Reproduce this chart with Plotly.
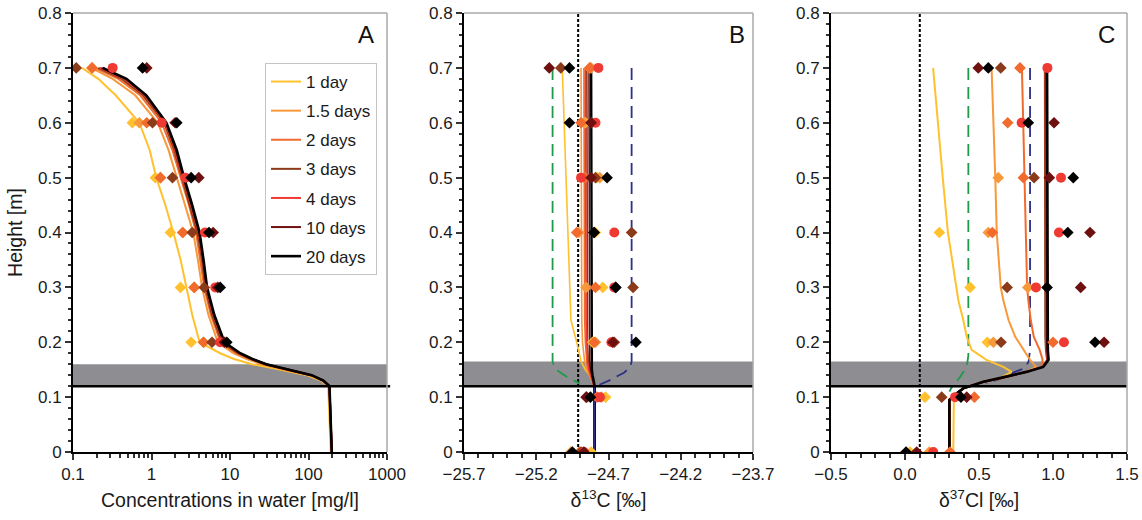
import plotly.graph_objects as go

SERIES = ["1 day", "1.5 days", "2 days", "3 days", "4 days", "10 days", "20 days"]
COLORS = ["#FFC12E", "#F7983A", "#F26B2E", "#8B3A1A", "#EE3A32", "#6E1010", "#000000"]
SYMBOLS = ["diamond", "diamond", "diamond", "diamond", "circle", "diamond", "diamond"]

# ---- panel A: concentration profiles (mg/l) ----
H_A_CURVE = [0.70, 0.68, 0.65, 0.60, 0.55, 0.50, 0.45, 0.40, 0.35, 0.30, 0.25, 0.20,
             0.18, 0.17, 0.16, 0.15, 0.14, 0.13, 0.12, 0.0]
CONC_CURVES = [
    [0.13, 0.21, 0.35, 0.70, 0.95, 1.15, 1.5, 1.9, 2.35, 2.8, 3.3, 4.1, 7.5, 11, 19, 45, 95, 145, 178, 192],
    [0.17, 0.32, 0.62, 1.2, 1.65, 2.1, 2.7, 3.4, 3.9, 4.4, 5.3, 7.0, 11, 16, 25, 50, 105, 150, 183, 196],
    [0.19, 0.38, 0.72, 1.35, 1.85, 2.35, 3.0, 3.7, 4.2, 4.7, 5.7, 7.6, 12, 17.5, 27, 52, 107, 152, 184, 198],
    [0.21, 0.42, 0.78, 1.45, 1.95, 2.45, 3.1, 3.85, 4.4, 4.85, 5.9, 7.9, 12.6, 18, 28, 53, 108, 153, 185, 198],
    [0.22, 0.45, 0.82, 1.5, 2.0, 2.5, 3.2, 4.0, 4.5, 4.95, 6.1, 8.2, 13, 18.5, 28.5, 54, 109, 154, 185, 198],
    [0.23, 0.47, 0.84, 1.53, 2.05, 2.55, 3.25, 4.05, 4.55, 5.0, 6.2, 8.3, 13.2, 18.8, 29, 54.5, 109, 154, 185, 198],
    [0.24, 0.48, 0.86, 1.55, 2.1, 2.6, 3.3, 4.1, 4.6, 5.1, 6.3, 8.5, 13.5, 19, 29, 55, 110, 155, 185, 198],
]
H_A_OBS = [0.7, 0.6, 0.5, 0.4, 0.3, 0.2]
CONC_OBS = [
    [None, 0.57, 1.12, 1.74, 2.34, 3.2],
    [0.175, 0.70, 1.3, 2.5, 3.5, 4.6],
    [0.175, 0.87, 1.3, 2.5, 3.5, 4.6],
    [0.11, 1.03, 1.85, 3.3, 4.7, 5.9],
    [0.32, 1.35, 2.7, 4.8, 6.5, 7.5],
    [0.87, 2.0, 4.0, 6.1, 7.0, 8.5],
    [0.77, 2.1, 3.2, 5.4, 7.5, 9.1],
]

# ---- panel B: d13C (permil) ----
H_B_CURVE = [0.70, 0.40, 0.30, 0.24, 0.20, 0.165, 0.15, 0.14, 0.13, 0.12, 0.0]
D13C_CURVES = [
    [-25.02, -24.98, -24.97, -24.96, -24.92, -24.89, -24.86, -24.83, -24.815, -24.80, -24.80],
    [-24.89, -24.89, -24.885, -24.885, -24.88, -24.865, -24.85, -24.83, -24.815, -24.80, -24.80],
    [-24.87, -24.87, -24.87, -24.865, -24.86, -24.85, -24.84, -24.825, -24.81, -24.80, -24.80],
    [-24.85, -24.85, -24.85, -24.85, -24.845, -24.84, -24.83, -24.82, -24.81, -24.80, -24.80],
    [-24.86, -24.86, -24.86, -24.855, -24.85, -24.845, -24.835, -24.82, -24.81, -24.80, -24.80],
    [-24.835, -24.835, -24.835, -24.835, -24.83, -24.83, -24.825, -24.815, -24.805, -24.80, -24.80],
    [-24.82, -24.82, -24.82, -24.82, -24.82, -24.82, -24.815, -24.81, -24.80, -24.795, -24.795],
]
H_OBS = [0.7, 0.6, 0.5, 0.4, 0.3, 0.2, 0.1, 0.0]
D13C_OBS = [
    [-24.83, -24.86, -24.78, -24.79, -24.74, -24.81, -24.72, -24.82],
    [-24.82, -24.87, -24.76, -24.905, -24.855, -24.79, -24.75, -24.96],
    [-24.83, -24.89, -24.86, -24.92, -24.79, -24.80, -24.78, -24.90],
    [-25.03, -24.82, -24.79, -24.54, -24.53, -24.66, -24.85, -24.89],
    [-24.77, -24.79, -24.89, -24.66, -24.66, -24.68, -24.76, -24.87],
    [-25.11, -24.82, -24.82, -24.80, -24.65, -24.67, -24.855, -24.87],
    [-24.97, -24.97, -24.71, -24.80, -24.65, -24.51, -24.825, -24.95],
]
D13C_REF = -24.91
H_B_GREEN = [0.70, 0.165, 0.155, 0.148, 0.137, 0.125]
D13C_GREEN = [-25.087, -25.087, -25.075, -25.05, -24.99, -24.90]
H_B_BLUE = [0.70, 0.165, 0.155, 0.145, 0.131, 0.12]
D13C_BLUE = [-24.54, -24.54, -24.55, -24.59, -24.69, -24.785]
H_B_BLUE_LOW = [0.12, 0.0]
D13C_BLUE_LOW = [-24.797, -24.797]

# ---- panel C: d37Cl (permil) ----
H_C_CURVE = [0.7, 0.6, 0.5, 0.4, 0.3, 0.277, 0.24, 0.21, 0.186, 0.168, 0.155, 0.146,
             0.134, 0.128, 0.116, 0.107, 0.095, 0.0]
D37CL_CURVES = [
    [0.19, 0.22, 0.255, 0.29, 0.35, 0.36, 0.394, 0.417, 0.45, 0.55, 0.664, 0.72, 0.64, 0.53, 0.40, 0.36, 0.33, 0.326],
    [0.585, 0.60, 0.61, 0.62, 0.647, 0.664, 0.70, 0.745, 0.80, 0.845, 0.885, 0.82, 0.64, 0.53, 0.394, 0.35, 0.30, 0.30],
    [0.79, 0.80, 0.81, 0.815, 0.825, 0.833, 0.85, 0.87, 0.91, 0.93, 0.92, 0.82, 0.64, 0.53, 0.394, 0.35, 0.30, 0.30],
    [0.945, 0.945, 0.945, 0.945, 0.945, 0.945, 0.946, 0.948, 0.952, 0.96, 0.93, 0.82, 0.64, 0.53, 0.394, 0.35, 0.30, 0.30],
    [0.95, 0.95, 0.95, 0.95, 0.95, 0.95, 0.951, 0.953, 0.957, 0.965, 0.932, 0.82, 0.64, 0.53, 0.394, 0.35, 0.30, 0.30],
    [0.955, 0.955, 0.955, 0.955, 0.955, 0.955, 0.956, 0.958, 0.961, 0.968, 0.933, 0.82, 0.64, 0.53, 0.394, 0.35, 0.30, 0.30],
    [0.96, 0.96, 0.96, 0.96, 0.96, 0.96, 0.96, 0.962, 0.965, 0.97, 0.934, 0.82, 0.64, 0.53, 0.394, 0.35, 0.30, 0.30],
]
D37CL_OBS = [
    [None, None, None, 0.232, 0.44, 0.556, 0.135, 0.034],
    [None, None, 0.63, 0.563, 0.83, 0.597, None, 0.164],
    [0.777, 0.694, 0.80, 0.59, None, 1.0, 0.469, 0.304],
    [0.647, None, 0.872, None, 0.69, 0.649, 0.248, None],
    [0.962, 0.788, 1.054, 1.04, 0.885, 1.074, 0.338, 0.191],
    [0.495, 1.007, 0.975, 1.25, 1.187, 1.345, 0.417, 0.079],
    [0.563, 0.833, 1.137, 1.10, 0.96, 1.284, 0.378, 0.007],
]
D37CL_REF = 0.1
H_C_GREEN = [0.70, 0.176, 0.155, 0.136, 0.118, 0.11]
D37CL_GREEN = [0.428, 0.428, 0.417, 0.37, 0.316, 0.30]
H_C_BLUE = [0.70, 0.186, 0.165, 0.153, 0.146, 0.133, 0.125]
D37CL_BLUE = [0.845, 0.845, 0.835, 0.81, 0.743, 0.64, 0.55]

BAND_A = (0.12, 0.16)
BAND_BC = (0.12, 0.165)
INTERFACE = 0.12

FONT = "Liberation Sans, Arial, sans-serif"
GREEN = "#1E9A4A"
NAVY = "#2E2F86"

W, H = 1142, 520


def px_x(a, b):
    return [a / W, b / W]


fig = go.Figure()

# panel A
for i, name in enumerate(SERIES):
    w = 2.6 if i == 6 else 2
    fig.add_trace(go.Scatter(x=CONC_CURVES[i], y=H_A_CURVE, mode="lines", name=name,
                             legendgroup=name, line=dict(color=COLORS[i], width=w),
                             xaxis="x", yaxis="y"))
for i, name in enumerate(SERIES):
    fig.add_trace(go.Scatter(x=CONC_OBS[i], y=H_A_OBS, mode="markers", showlegend=False,
                             marker=dict(color=COLORS[i], symbol=SYMBOLS[i],
                                         size=10 if SYMBOLS[i] == "circle" else 9),
                             xaxis="x", yaxis="y"))

# panel B
fig.add_trace(go.Scatter(x=[D13C_REF, D13C_REF], y=[0, 0.8], mode="lines", showlegend=False,
                         line=dict(color="black", width=2, dash="3px,2px"), xaxis="x2", yaxis="y2"))
fig.add_trace(go.Scatter(x=D13C_GREEN, y=H_B_GREEN, mode="lines", showlegend=False,
                         line=dict(color=GREEN, width=1.8, dash="12px,7px"), xaxis="x2", yaxis="y2"))
fig.add_trace(go.Scatter(x=D13C_BLUE, y=H_B_BLUE, mode="lines", showlegend=False,
                         line=dict(color=NAVY, width=1.8, dash="12px,7px"), xaxis="x2", yaxis="y2"))
for i, name in enumerate(SERIES):
    fig.add_trace(go.Scatter(x=D13C_CURVES[i], y=H_B_CURVE, mode="lines", showlegend=False,
                             line=dict(color=COLORS[i], width=2.4 if i == 6 else 1.6),
                             xaxis="x2", yaxis="y2"))
fig.add_trace(go.Scatter(x=D13C_BLUE_LOW, y=H_B_BLUE_LOW, mode="lines", showlegend=False,
                         line=dict(color=NAVY, width=1.5), xaxis="x2", yaxis="y2"))
for i, name in enumerate(SERIES):
    fig.add_trace(go.Scatter(x=D13C_OBS[i], y=H_OBS, mode="markers", showlegend=False,
                             marker=dict(color=COLORS[i], symbol=SYMBOLS[i],
                                         size=10 if SYMBOLS[i] == "circle" else 9),
                             xaxis="x2", yaxis="y2"))

# panel C
fig.add_trace(go.Scatter(x=[D37CL_REF, D37CL_REF], y=[0, 0.8], mode="lines", showlegend=False,
                         line=dict(color="black", width=2, dash="3px,2px"), xaxis="x3", yaxis="y3"))
fig.add_trace(go.Scatter(x=D37CL_GREEN, y=H_C_GREEN, mode="lines", showlegend=False,
                         line=dict(color=GREEN, width=1.8, dash="12px,7px"), xaxis="x3", yaxis="y3"))
fig.add_trace(go.Scatter(x=D37CL_BLUE, y=H_C_BLUE, mode="lines", showlegend=False,
                         line=dict(color=NAVY, width=1.8, dash="12px,7px"), xaxis="x3", yaxis="y3"))
for i, name in enumerate(SERIES):
    fig.add_trace(go.Scatter(x=D37CL_CURVES[i], y=H_C_CURVE, mode="lines", showlegend=False,
                             line=dict(color=COLORS[i], width=2.6 if i == 6 else 2),
                             xaxis="x3", yaxis="y3"))
for i, name in enumerate(SERIES):
    fig.add_trace(go.Scatter(x=D37CL_OBS[i], y=H_OBS, mode="markers", showlegend=False,
                             marker=dict(color=COLORS[i], symbol=SYMBOLS[i],
                                         size=10 if SYMBOLS[i] == "circle" else 9),
                             xaxis="x3", yaxis="y3"))

# bands, interface line and grey top/right frame
shapes = []
for xa, ya, band in [("x", "y", BAND_A), ("x2", "y2", BAND_BC), ("x3", "y3", BAND_BC)]:
    shapes.append(dict(type="rect", xref=xa + " domain", yref=ya, x0=0, x1=1,
                       y0=band[0], y1=band[1], fillcolor="#8e8e92", line_width=0, layer="below"))
    shapes.append(dict(type="line", xref=xa + " domain", yref=ya, x0=0, x1=1.01 if xa == "x" else 1,
                       y0=INTERFACE, y1=INTERFACE, line=dict(color="black", width=2.5)))
    shapes.append(dict(type="line", xref=xa + " domain", yref=ya + " domain", x0=0, x1=1,
                       y0=1, y1=1, line=dict(color="#a8a8a8", width=1.5)))
    shapes.append(dict(type="line", xref=xa + " domain", yref=ya + " domain", x0=1, x1=1,
                       y0=0, y1=1, line=dict(color="#a8a8a8", width=1.5)))

annotations = []
for xa, ya, letter, xp in [("x", "y", "A", 0.932), ("x2", "y2", "B", 0.945), ("x3", "y3", "C", 0.931)]:
    annotations.append(dict(text=letter, xref=xa + " domain", yref=ya + " domain", x=xp, y=0.95,
                            xanchor="center", yanchor="middle", showarrow=False,
                            font=dict(size=24, family=FONT, color="#111")))

TICKS = dict(showline=True, linecolor="black", linewidth=2, ticks="outside", ticklen=6,
             tickwidth=1.5, tickcolor="#333", showgrid=False, zeroline=False,
             ticklabeloverflow="allow",
             tickfont=dict(size=17, family=FONT, color="#1a1a1a"), automargin=False)
TITLE_FONT = dict(size=19.5, family=FONT, color="#1a1a1a")
YD = [(H - 452) / H, (H - 13) / H]

log_minor = [m * 10 ** e for e in (-1, 0, 1, 2) for m in range(2, 10)]

fig.update_layout(
    width=W, height=H, margin=dict(l=0, r=0, t=0, b=0),
    plot_bgcolor="white", paper_bgcolor="white",
    font=dict(family=FONT),
    shapes=shapes, annotations=annotations,
    legend=dict(x=265 / W, y=(H - 63) / H, xanchor="left", yanchor="top",
                bordercolor="#c4c4c4", borderwidth=1, bgcolor="white",
                font=dict(size=17, family=FONT, color="#1a1a1a"), tracegroupgap=4),
    xaxis=dict(TICKS, type="log", domain=px_x(73, 387), range=[-1, 3], anchor="y",
               tickvals=[0.1, 1, 10, 100, 1000], ticktext=["0.1", "1", "10", "100", "1000"],
               minor=dict(tickvals=log_minor, ticks="outside", ticklen=4, tickcolor="#333"),
               title=dict(text="Concentrations in water [mg/l]", font=TITLE_FONT, standoff=10)),
    yaxis=dict(TICKS, domain=YD, range=[0, 0.8], dtick=0.1, anchor="x",
               minor=dict(dtick=0.02, ticks="outside", ticklen=3.5, tickcolor="#333"),
               title=dict(text="Height [m]", font=TITLE_FONT, standoff=10)),
    xaxis2=dict(TICKS, domain=px_x(464, 753), range=[-25.7, -23.7], anchor="y2",
                tick0=-25.7, dtick=0.5, tickformat=".1f",
                minor=dict(dtick=0.1, tick0=-25.7, ticks="outside", ticklen=4, tickcolor="#333"),
                title=dict(text="δ<sup>13</sup>C [‰]", font=TITLE_FONT, standoff=10)),
    yaxis2=dict(TICKS, domain=YD, range=[0, 0.8], dtick=0.1, anchor="x2",
                minor=dict(dtick=0.02, ticks="outside", ticklen=3.5, tickcolor="#333")),
    xaxis3=dict(TICKS, domain=px_x(831, 1127), range=[-0.5, 1.5], anchor="y3",
                dtick=0.5, tickformat=".1f",
                minor=dict(dtick=0.1, ticks="outside", ticklen=4, tickcolor="#333"),
                title=dict(text="δ<sup>37</sup>Cl [‰]", font=TITLE_FONT, standoff=10)),
    yaxis3=dict(TICKS, domain=YD, range=[0, 0.8], dtick=0.1, anchor="x3",
                minor=dict(dtick=0.02, ticks="outside", ticklen=3.5, tickcolor="#333")),
)

# drop the browser's default 8px body margin so the figure fills the window exactly
fig.write_html("out.html", config={"displayModeBar": False},
               post_script="document.body.style.margin='0';")
